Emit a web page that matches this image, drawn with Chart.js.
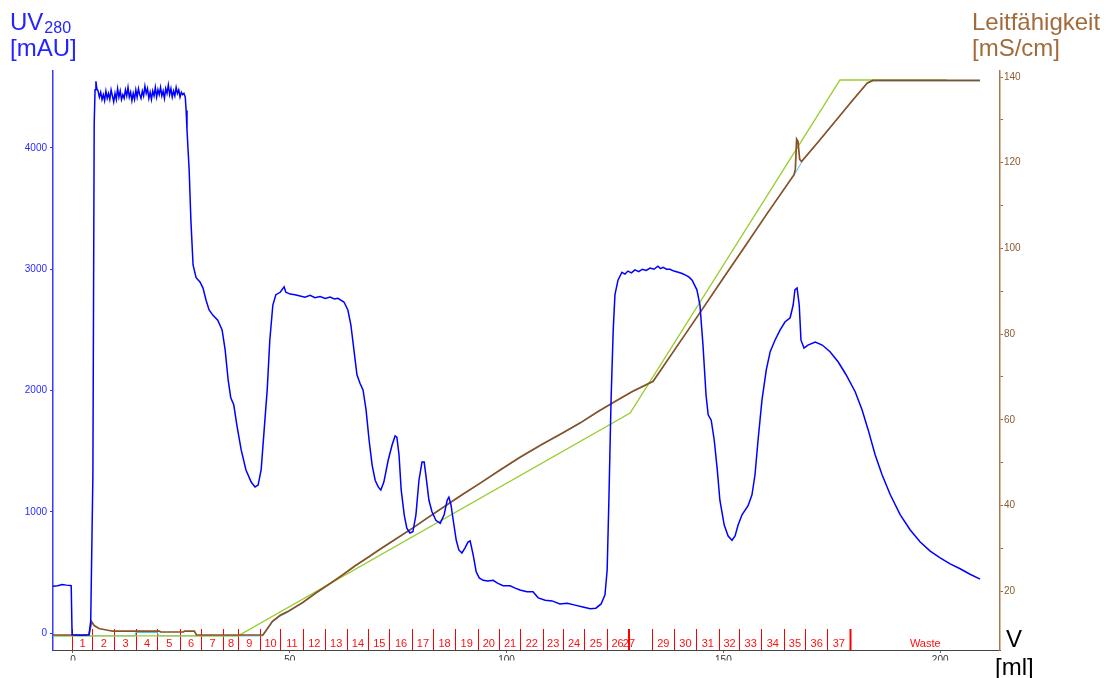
<!DOCTYPE html>
<html><head><meta charset="utf-8">
<script src="https://cdn.jsdelivr.net/npm/chart.js@4/dist/chart.umd.min.js"></script>
<style>html,body{margin:0;padding:0;background:#fff;overflow:hidden}canvas{display:block}</style>
</head><body>
<canvas id="c" width="1112" height="678"></canvas>
<script>
// ---------- DATA ----------
// UV 280 nm trace: volume [ml] / absorbance [mAU]
const uvVolume = [-4.6,-3.5,-2.5,-1.5,-0.6,-0.4,-0.2,2.0,3.7,4.1,4.6,4.9,
 5.1,5.3,5.5,5.8,6.1,6.4,6.7,7.0,7.3,7.6,7.9,8.2,8.5,8.8,9.1,9.4,9.7,10.0,10.3,10.6,10.9,11.2,11.5,11.8,12.1,12.4,12.7,13.0,13.3,13.6,13.9,14.2,14.5,14.8,15.1,15.4,15.7,16.0,16.3,16.6,16.9,17.2,17.5,17.8,18.1,18.4,18.7,19.0,19.3,19.6,19.9,20.2,20.5,20.8,21.1,21.4,21.7,22.0,22.3,22.6,22.9,23.2,23.5,23.8,24.1,24.4,24.7,25.0,25.3,25.6,
 25.9,26.1,26.3,26.8,27.2,27.7,28.4,29.3,30.0,30.7,31.4,32.3,33.4,34.4,35.1,35.8,36.4,37.1,37.8,38.8,39.9,41.1,42.0,42.7,43.4,44.1,44.8,45.4,46.1,46.8,47.8,48.7,49.1,50.1,51.2,52.4,53.5,54.7,55.8,57.0,58.2,59.3,60.3,61.1,62.5,63.4,64.1,64.8,65.5,66.2,66.9,67.6,68.3,69.0,69.7,70.4,71.0,71.7,72.7,73.6,74.3,74.7,75.2,75.7,76.4,77.0,77.7,78.4,79.1,79.8,80.5,81.0,81.4,82.1,82.8,83.7,84.7,85.6,86.3,86.7,87.2,87.7,88.4,89.0,89.7,90.4,91.1,91.6,92.3,93.0,93.7,94.6,95.7,96.9,98.0,99.2,100.8,102.0,103.1,104.7,106.1,107.3,108.9,110.5,112.3,114.0,115.8,117.6,119.3,120.6,121.8,122.7,123.2,123.6,124.1,124.6,125.0,125.7,126.6,127.3,128.0,128.8,129.6,130.5,131.3,132.2,133.1,134.0,134.9,135.5,136.1,136.9,137.7,138.6,139.6,140.5,141.4,142.1,142.8,143.9,144.6,145.3,146.0,146.5,147.2,147.9,148.6,149.2,150.2,151.1,152.0,152.7,153.4,154.3,155.7,156.6,157.3,158.0,158.9,159.9,160.8,161.9,163.1,164.2,165.4,166.1,166.5,167.0,167.5,167.9,168.6,169.5,171.2,172.8,174.6,176.5,178.3,180.4,182.0,183.4,185.0,186.6,188.5,190.8,193.1,195.4,197.7,200.0,202.3,204.6,206.9,209.2];
const uvSignal = [385,390,400,395,392,390,-15,-18,-15,100,1300,4200,
 4480,4550,4490,4470,4420,4460,4400,4440,4390,4470,4410,4450,4400,4480,4430,4380,4450,4400,4490,4420,4470,4400,4440,4410,4480,4430,4500,4420,4460,4390,4450,4400,4480,4420,4490,4440,4410,4470,4430,4510,4450,4490,4410,4460,4400,4470,4430,4500,4420,4480,4440,4500,4430,4470,4410,4490,4450,4520,4440,4490,4420,4470,4430,4500,4450,4480,4420,4460,4440,4450,
 4420,4310,4150,3820,3405,3035,2930,2895,2845,2745,2665,2620,2580,2500,2335,2085,1940,1880,1715,1510,1345,1245,1205,1220,1345,1675,2005,2415,2705,2790,2810,2855,2810,2795,2790,2780,2770,2785,2765,2775,2760,2770,2755,2760,2730,2665,2540,2335,2130,2060,2005,1840,1590,1385,1260,1205,1180,1245,1425,1550,1625,1615,1470,1180,975,865,825,835,975,1260,1410,1410,1300,1095,1000,930,905,975,1095,1120,1055,930,765,685,660,700,750,760,645,505,455,435,430,435,410,390,390,370,355,340,340,290,270,265,240,245,230,215,200,205,240,315,520,1095,1920,2500,2790,2910,2975,2960,2985,2970,2995,2980,3000,2990,3010,3000,3025,3005,3015,3000,3000,2985,2975,2965,2950,2935,2910,2830,2705,2375,1965,1800,1755,1590,1345,1095,890,800,765,800,890,975,1050,1140,1305,1590,1920,2170,2320,2415,2500,2565,2600,2705,2830,2845,2705,2415,2350,2375,2400,2375,2320,2235,2130,1990,1840,1675,1470,1305,1140,975,850,750,675,620,570,530,485,445];

// Conductivity trace: volume [ml] / mS/cm
const condVolume = [-4.6,3.7,4.3,4.9,6.0,8.0,9.2,20.0,20.2,25.5,25.7,28.0,28.5,43.8,44.5,46.0,47.8,49.4,53.0,56.0,59.3,62.0,65.0,68.0,70.8,74.0,78.4,82.0,86.0,90.0,94.0,98.5,103.0,108.0,113.0,117.0,121.0,125.0,129.0,133.8,140.0,145.0,150.0,155.0,160.0,166.3,166.6,166.9,167.2,167.6,168.0,168.3,172.0,176.0,180.0,183.2,184.5,209.2];
const condValue  = [9.8,9.8,12.9,12.0,11.3,10.9,10.7,10.7,10.5,10.5,10.7,10.7,9.8,9.8,10.8,13.0,14.4,15.2,17.4,19.6,21.8,23.7,25.9,27.9,29.8,31.9,34.8,37.3,40.0,42.7,45.3,48.3,51.2,54.2,57.0,59.3,61.9,64.3,66.6,69.0,78.2,85.6,93.1,100.5,108.0,117.2,118.5,125.5,125.0,120.8,120.3,120.6,125.0,129.9,134.8,138.6,139.2,139.2];

// Gradient (set conductivity) trace
const gradVolume = [-4.6,38.1,128.5,176.9,201.5];
const gradValue  = [9.6,9.6,61.6,139.3,139.3];

// Cyan auxiliary trace (mostly hidden under conductivity)
const auxVolume = [-4.6,14.3,14.5,19.5,19.7,43.8,44.5,46.0,47.8,49.4,53.0,56.0,59.3,62.0,65.0,68.0,70.8,74.0,78.4,82.0,86.0,90.0,94.0,98.5,103.0,108.0,113.0,117.0,121.0,125.0,129.0,133.8,140.0,145.0,150.0,155.0,160.0,166.3,168.3,172.0,176.0,180.0,183.2,184.5,209.2];
const auxValue  = [9.6,9.6,10.4,10.4,9.6,9.6,10.6,12.8,14.2,15.0,17.3,19.5,21.7,23.6,25.8,27.8,29.7,31.8,34.7,37.2,39.9,42.6,45.2,48.2,51.1,54.1,56.9,59.2,61.8,64.2,66.5,68.9,78.1,85.5,93.0,100.4,107.9,117.1,120.5,124.9,129.8,134.7,138.5,139.1,139.1];

// Axis ticks
const volumeTicks = [0,50,100,150,200];
const uvTicks = [0,1000,2000,3000,4000];
const condTicks = [20,30,40,50,60,70,80,90,100,110,120,130,140];

// Fractions: start volume [ml] and label
const fractionStart = [-0.3,4.45,9.5,14.5,19.5,24.7,29.5,34.7,38.0,43.1,47.8,53.0,58.1,63.1,68.1,73.0,78.1,83.1,88.1,93.3,98.3,103.1,108.3,113.0,117.9,123.1,127.9,128.3,133.5,138.6,143.7,148.9,153.7,158.7,163.9,168.9,173.9,179.1];
const fractionLabels = ['1','2','3','4','5','6','7','8','9','10','11','12','13','14','15','16','17','18','19','20','21','22','23','24','25','26','27','','29','30','31','32','33','34','35','36','37','Waste'];

// ---------- CHART ----------
const FONT = "'Liberation Sans', Arial, Helvetica, sans-serif";
const toXY = (xs, ys) => xs.map((x, i) => ({x: x, y: ys[i]}));

const fractionPlugin = {
  id: 'fractions',
  beforeDatasetsDraw(chart) {
    const {ctx, chartArea, scales} = chart;
    const x = scales.x;
    const yTop = chartArea.bottom - 21;
    ctx.save();
    ctx.strokeStyle = '#ff0000';
    fractionStart.forEach((v, i) => {
      const px = Math.round(x.getPixelForValue(v)) + 0.5;
      ctx.lineWidth = fractionLabels[i] === 'Waste' ? 2 : 1;
      ctx.beginPath(); ctx.moveTo(px, yTop); ctx.lineTo(px, chartArea.bottom); ctx.stroke();
    });
    ctx.fillStyle = '#ff1010';
    ctx.font = '11px ' + FONT;
    ctx.textAlign = 'center';
    ctx.textBaseline = 'alphabetic';
    fractionLabels.forEach((lab, i) => {
      const a = fractionStart[i];
      const b = i + 1 < fractionStart.length ? fractionStart[i + 1] : x.max;
      const px = (x.getPixelForValue(a) + x.getPixelForValue(b)) / 2;
      ctx.fillText(lab, px + 0.5, chartArea.bottom - 3);
    });
    ctx.restore();
  }
};

const titlePlugin = {
  id: 'titles',
  afterDraw(chart) {
    const {ctx} = chart;
    ctx.save();
    // clip the volume tick labels like the reference
    ctx.fillStyle = '#ffffff';
    ctx.fillRect(40, 660.5, 948, 20);
    ctx.textAlign = 'left';
    ctx.textBaseline = 'alphabetic';
    ctx.fillStyle = '#2424ff';
    ctx.font = '24px ' + FONT;
    ctx.fillText('UV', 10, 30);
    const w = ctx.measureText('UV').width;
    ctx.font = '16px ' + FONT;
    ctx.fillText('280', 10 + w + 1, 33);
    ctx.font = '24px ' + FONT;
    ctx.fillText('[mAU]', 10, 56);
    ctx.fillStyle = '#a26b3a';
    ctx.fillText('Leitfähigkeit', 972, 30);
    ctx.fillText('[mS/cm]', 972, 56);
    ctx.fillStyle = '#000000';
    ctx.fillText('V', 1006, 647);
    ctx.fillText('[ml]', 995, 675);
    ctx.restore();
  }
};

new Chart(document.getElementById('c').getContext('2d'), {
  type: 'line',
  data: {
    datasets: [
      {label: 'UV', data: toXY(uvVolume, uvSignal), yAxisID: 'yUV', borderColor: '#0000ff', borderWidth: 1.5, pointRadius: 0, tension: 0, fill: false},
      {label: 'Leitfähigkeit', data: toXY(condVolume, condValue), yAxisID: 'yCond', borderColor: '#8a5026', borderWidth: 1.7, pointRadius: 0, tension: 0, fill: false},
      {label: 'Gradient', data: toXY(gradVolume, gradValue), yAxisID: 'yCond', borderColor: '#9acd32', borderWidth: 1.4, pointRadius: 0, tension: 0, fill: false},
      {label: 'Aux', data: toXY(auxVolume, auxValue), yAxisID: 'yCond', borderColor: '#2ec8ee', borderWidth: 1, pointRadius: 0, tension: 0, fill: false}
    ]
  },
  options: {
    responsive: false,
    animation: false,
    devicePixelRatio: 1,
    layout: {padding: {top: 71, left: 0, right: 0, bottom: 0}},
    plugins: {legend: {display: false}, tooltip: {enabled: false}},
    scales: {
      x: {
        type: 'linear', position: 'bottom', min: -4.6, max: 213.8,
        afterFit: s => { s.height = 28; },
        afterBuildTicks: s => { s.ticks = volumeTicks.map(v => ({value: v})); },
        grid: {drawOnChartArea: false, drawTicks: true, tickLength: 3, color: '#666'},
        border: {color: '#444', width: 1},
        ticks: {font: {family: FONT, size: 10}, color: '#333', padding: 1, maxRotation: 0, autoSkip: false,
                callback: v => String(v)}
      },
      yUV: {
        type: 'linear', position: 'left', min: -140, max: 4635,
        afterFit: s => { s.width = 53; },
        afterBuildTicks: s => { s.ticks = uvTicks.map(v => ({value: v})); },
        grid: {drawOnChartArea: false, drawTicks: true, tickLength: 3, color: '#3030ff'},
        border: {color: '#3a3aff', width: 1.5},
        ticks: {font: {family: FONT, size: 10}, color: '#2a2aff', padding: 3, autoSkip: false,
                callback: v => String(v)}
      },
      yCond: {
        type: 'linear', position: 'right', min: 6.3, max: 141.4,
        afterFit: s => { s.width = 112; },
        afterBuildTicks: s => { s.ticks = condTicks.map(v => ({value: v})); },
        grid: {drawOnChartArea: false, drawTicks: true, tickLength: 3, color: '#9a6a3a'},
        border: {color: '#a8784a', width: 1.5},
        ticks: {font: {family: FONT, size: 10}, color: '#8b5a2b', padding: 1, autoSkip: false,
                callback: v => (v % 20 === 0 ? String(v) : '')}
      }
    }
  },
  plugins: [fractionPlugin, titlePlugin]
});
</script>
</body></html>
